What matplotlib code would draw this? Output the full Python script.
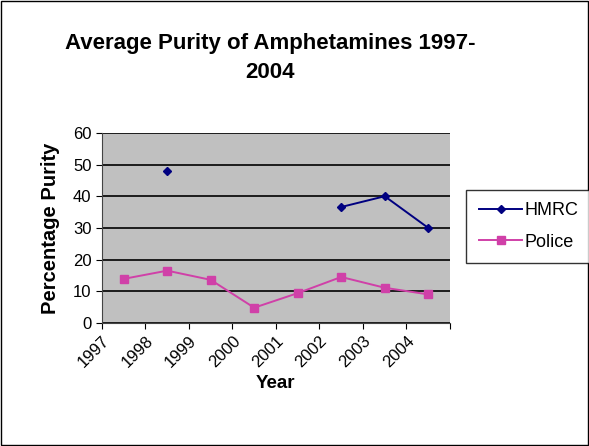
import numpy as np
from matplotlib import pyplot as plt

plt.rcParams['font.family'] = ['Liberation Sans', 'DejaVu Sans']

years = ['1997', '1998', '1999', '2000', '2001', '2002', '2003', '2004']
hmrc = [np.nan, 48, np.nan, np.nan, np.nan, 36.6, 40, 30]
police = [13.9, 16.5, 13.6, 4.8, 9.4, 14.5, 11.1, 9.0]

fig = plt.figure(figsize=(5.89, 4.46), dpi=100)
ax = fig.add_axes([0.173, 0.276, 0.591, 0.426])

# points sit in the middle of each category, labels on the boundaries
x = np.arange(len(years)) + 0.5
ax.plot(x, hmrc, color='#000080', marker='D', markersize=4.5, lw=1.4, label='HMRC')
ax.plot(x, police, color='#D040A8', marker='s', markersize=5.5, lw=1.4, label='Police')

ax.set_facecolor('#C0C0C0')
ax.set_xlim(0, len(years))
ax.set_ylim(0, 60)
ax.set_yticks(range(0, 61, 10))
ax.yaxis.grid(True, color='black', lw=1.2)
ax.set_axisbelow(True)
ax.set_xticks(np.arange(len(years) + 1))
ax.set_xticklabels(years + [''], rotation=45, ha='right', rotation_mode='anchor')
ax.tick_params(labelsize=12, direction='out', length=4)
for s in ['top', 'right']:
    ax.spines[s].set_visible(False)
ax.spines['left'].set_color('#444444')
ax.spines['bottom'].set_color('#444444')

ax.set_ylabel('Percentage Purity', fontsize=14.5, fontweight='bold', labelpad=9)
ax.set_xlabel('Year', fontsize=13.5, fontweight='bold', labelpad=3)
fig.text(0.459, 0.87, 'Average Purity of Amphetamines 1997-\n2004', ha='center', va='center',
         fontsize=16, fontweight='bold', linespacing=1.5)

leg = fig.legend(loc='center left', bbox_to_anchor=(0.792, 0.492), fontsize=13, frameon=True,
                 fancybox=False, edgecolor='black', handlelength=2.4, handletextpad=0.1,
                 borderpad=0.7, labelspacing=0.8, borderaxespad=0)
leg.get_frame().set_linewidth(1.0)

fig.patches.append(plt.Rectangle((0.002, 0.002), 0.996, 0.996, transform=fig.transFigure,
                                 fill=False, edgecolor='black', lw=1.0))

fig.savefig('out.png', dpi=100)
